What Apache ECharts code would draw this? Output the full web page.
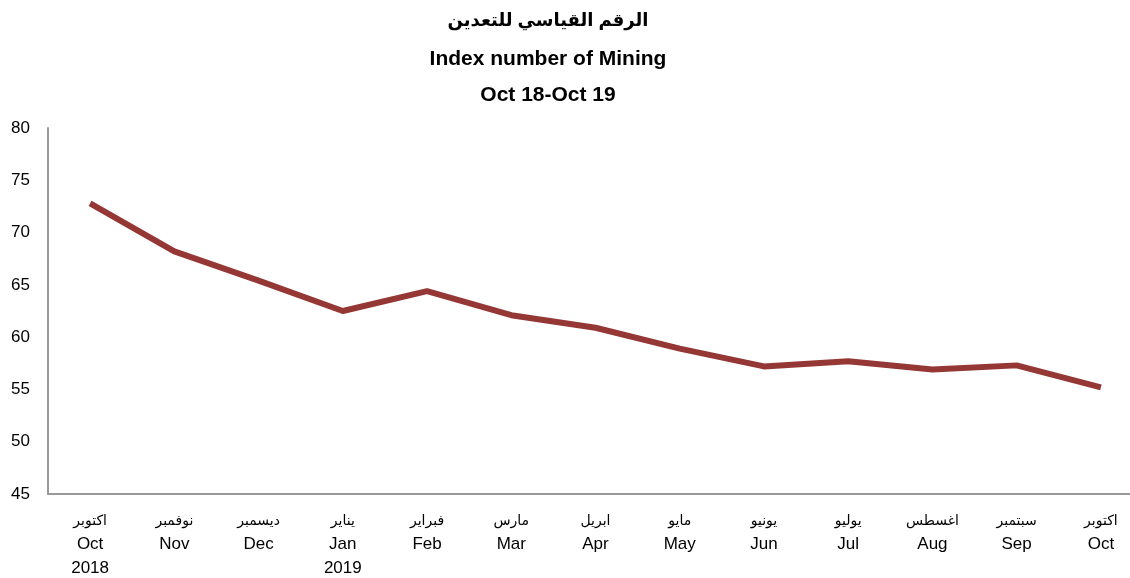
<!DOCTYPE html>
<html>
<head>
<meta charset="utf-8">
<script src="https://cdn.jsdelivr.net/npm/echarts@6/dist/echarts.min.js"></script>
<style>
  html, body { margin: 0; padding: 0; background: #fff; }
  #chart { width: 1130px; height: 578px; }
</style>
</head>
<body>
<div id="chart"></div>
<script>
// month labels (Arabic / English / year)
const arabicMonths = ['اكتوبر', 'نوفمبر', 'ديسمبر', 'يناير', 'فبراير', 'مارس', 'ابريل', 'مايو', 'يونيو', 'يوليو', 'اغسطس', 'سبتمبر', 'اكتوبر'];
const englishMonths = ['Oct', 'Nov', 'Dec', 'Jan', 'Feb', 'Mar', 'Apr', 'May', 'Jun', 'Jul', 'Aug', 'Sep', 'Oct'];
const years = ['2018', '', '', '2019', '', '', '', '', '', '', '', '', ''];

// index number of mining
const miningIndex = [72.8, 68.2, 65.4, 62.5, 64.4, 62.1, 60.9, 58.9, 57.2, 57.7, 56.9, 57.3, 55.2];

const yTicks = { min: 45, max: 80, interval: 5 };

const font = '"Liberation Sans Narrow", "Liberation Sans", "DejaVu Sans", sans-serif';

const categories = englishMonths.map((m, i) =>
    '{ar|' + arabicMonths[i] + '}\n{en|' + m + '}' + (years[i] ? '\n{en|' + years[i] + '}' : ''));

const chart = echarts.init(document.getElementById('chart'));
chart.setOption({
    animation: false,
    title: {
        text: '{ar|الرقم القياسي للتعدين}\n{en|Index number of Mining}\n{en|Oct 18-Oct 19}',
        left: 548,
        textAlign: 'center',
        top: 1,
        padding: 0,
        textStyle: {
            rich: {
                ar: { fontFamily: font, fontWeight: 'bold', fontSize: 18, lineHeight: 40, color: '#000' },
                en: { fontFamily: font, fontWeight: 'bold', fontSize: 21, lineHeight: 36, color: '#000' }
            }
        }
    },
    grid: {
        left: 48,
        top: 128,
        height: 366,
        width: 1095,
        outerBoundsMode: 'none',
        containLabel: false
    },
    xAxis: {
        type: 'category',
        data: categories,
        boundaryGap: true,
        axisLine: { lineStyle: { color: '#999', width: 2 } },
        axisTick: { show: false },
        axisLabel: {
            interval: 0,
            margin: 16,
            color: '#000',
            rich: {
                ar: { fontFamily: font, fontSize: 14, lineHeight: 22, color: '#000' },
                en: { fontFamily: font, fontSize: 17, lineHeight: 24, color: '#000' }
            }
        }
    },
    yAxis: {
        type: 'value',
        min: yTicks.min,
        max: yTicks.max,
        interval: yTicks.interval,
        splitLine: { show: false },
        axisLine: { show: true, lineStyle: { color: '#999', width: 2 } },
        axisTick: { show: false },
        axisLabel: {
            margin: 18,
            fontFamily: font,
            fontSize: 17,
            color: '#000'
        }
    },
    series: [{
        type: 'line',
        data: miningIndex,
        symbol: 'none',
        lineStyle: { color: '#953735', width: 6, join: 'round' }
    }]
});
</script>
</body>
</html>
